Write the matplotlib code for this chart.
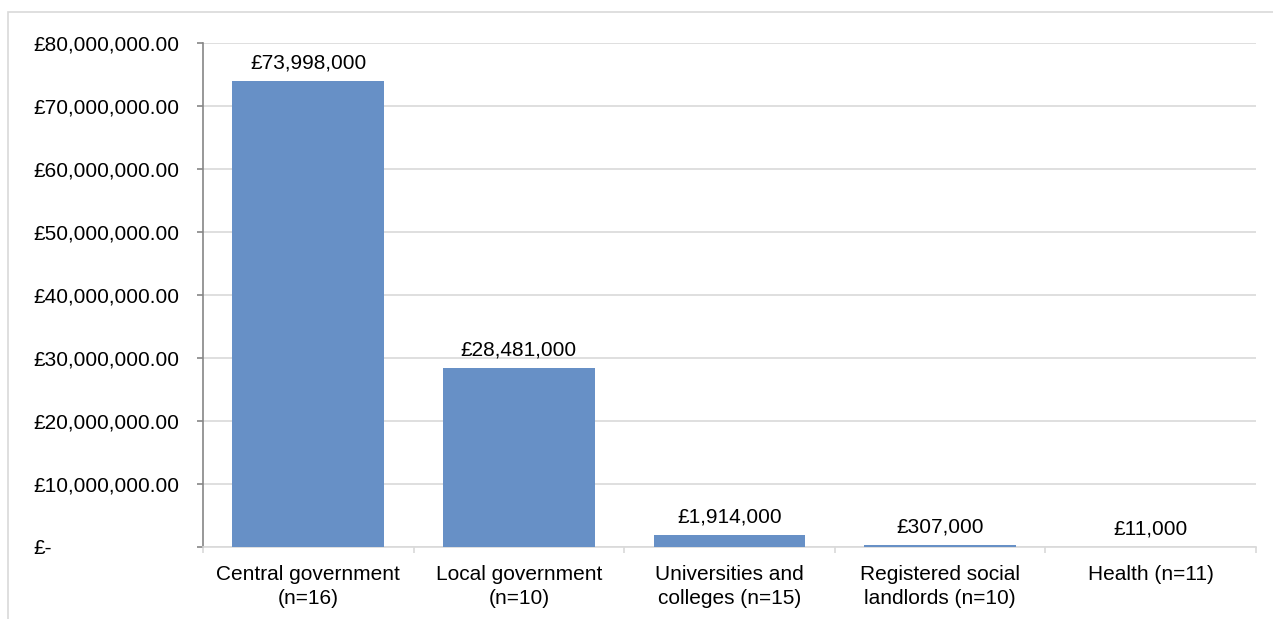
import matplotlib.pyplot as plt
from matplotlib.patches import Rectangle
from matplotlib.ticker import FuncFormatter

plt.rcParams['font.family'] = ['Liberation Sans', 'DejaVu Sans']

# data
categories = ["Central government\n(n=16)", "Local government\n(n=10)",
              "Universities and\ncolleges (n=15)", "Registered social\nlandlords (n=10)",
              "Health (n=11)"]
values = [73998000, 28481000, 1914000, 307000, 11000]
yticks = [0, 10e6, 20e6, 30e6, 40e6, 50e6, 60e6, 70e6, 80e6]

fig = plt.figure(figsize=(12.73, 6.19), dpi=100)
ax = fig.add_axes([203 / 1273, 1 - 547 / 619, (1256 - 203) / 1273, (547 - 43) / 619])

# outer chart border (only top and left visible)
fig.patches.append(Rectangle((8 / 1273, -0.5), 2, (1 - 12 / 619) + 0.5,
                             transform=fig.transFigure, fill=False,
                             edgecolor="#D9D9D9", linewidth=1.2))

x = list(range(len(categories)))
bars = ax.bar(x, values, width=0.72, color="#6790C6", zorder=3)

for xi, v in zip(x, values):
    ax.annotate("£{:,}".format(v), (xi, v), xytext=(0, 6), textcoords="offset points",
                ha="center", va="bottom", fontsize=15, color="#000000")

ax.set_xlim(-0.5, len(categories) - 0.5)
ax.set_ylim(0, 80e6)
ax.set_yticks(yticks)


def money(v, pos):
    if v == 0:
        return "£-"
    return "£{:,.2f}".format(v)


ax.yaxis.set_major_formatter(FuncFormatter(money))
ax.grid(axis="y", color="#D9D9D9", linewidth=1.2, zorder=0)

# category labels between boundary ticks
ax.set_xticks([i - 0.5 for i in range(len(categories) + 1)])
ax.set_xticklabels([])
ax.set_xticks(x, minor=True)
ax.set_xticklabels(categories, minor=True, fontsize=15, linespacing=1.35)
ax.tick_params(axis="x", which="minor", length=0, pad=13)
ax.tick_params(axis="x", which="major", length=4, color="#D9D9D9", width=1.2)
ax.tick_params(axis="y", length=4.3, color="#868686", width=1.2, labelsize=15,
               pad=(170 - 6) * 0.72)
for lbl in ax.get_yticklabels():
    lbl.set_horizontalalignment("left")

for side in ["top", "right"]:
    ax.spines[side].set_visible(False)
ax.spines["left"].set_color("#868686")
ax.spines["left"].set_linewidth(1.2)
ax.spines["bottom"].set_color("#D9D9D9")
ax.spines["bottom"].set_linewidth(1.2)

fig.savefig("out.png", dpi=100)
